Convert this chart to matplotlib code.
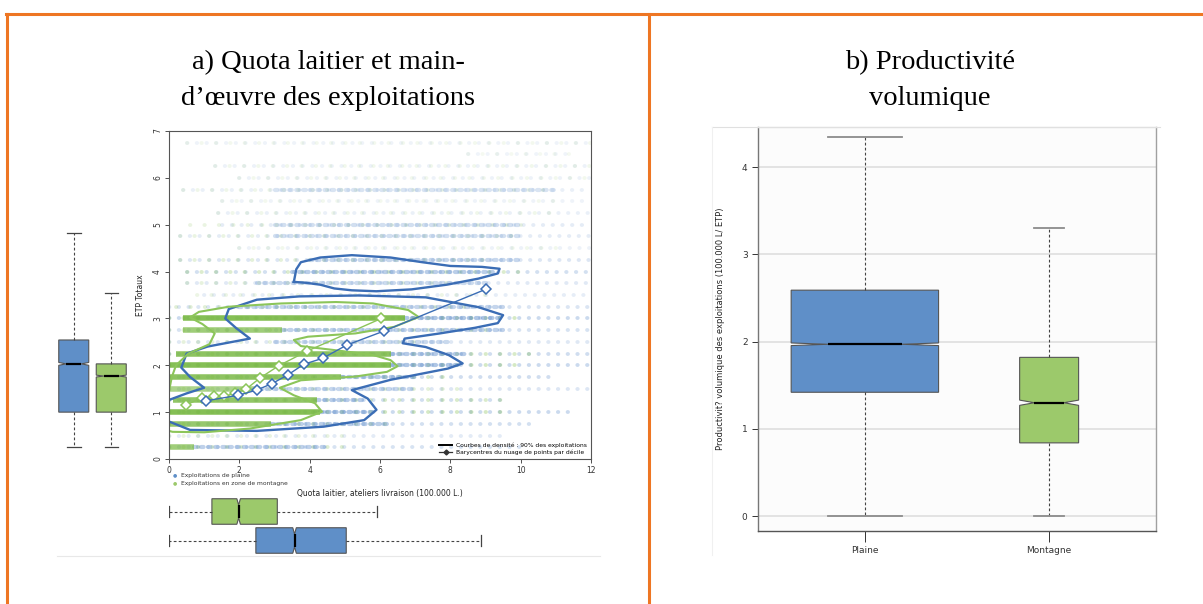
import matplotlib
matplotlib.use("Agg")
import matplotlib.pyplot as plt
from matplotlib.lines import Line2D

W, H = 1203, 604

# colours
BLUE = "#5f8fc8"
GREEN = "#9cc96b"
BLUE_PT = "#4f82c6"
GREEN_PT = "#78b842"
BLUE_LINE = "#3b6db5"
GREEN_LINE = "#8cc55a"
ORANGE = "#ee7623"

# --- a) quota / ETP scatter, one entry per ETP level ---
etp_levels = [0.25, 0.5, 0.75, 1.0, 1.25, 1.5, 1.75, 2.0, 2.25, 2.5, 2.75, 3.0, 3.25, 3.5,
              3.75, 4.0, 4.25, 4.5, 4.75, 5.0, 5.25, 5.5, 5.75, 6.0, 6.25, 6.5, 6.75]
green_band = [(0, 0.7), (0, 0), (0, 2.9), (0, 4.3), (0.1, 4.2), (0, 2.6), (0, 4.9), (0, 6.3),
              (0.2, 6.3), (0, 0), (0.4, 3.2), (0.4, 6.7), (0, 0), (0, 0), (0, 0), (0, 0),
              (0, 0), (0, 0), (0, 0), (0, 0), (0, 0), (0, 0), (0, 0), (0, 0), (0, 0), (0, 0), (0, 0)]
green_spread = [(0, 5.0), (0, 5.0), (0, 6.5), (0, 9.5), (0, 9.5), (0, 8.5), (0, 8.0), (0, 10.0),
                (0, 10.5), (0, 7.0), (0, 9.0), (0, 10.0), (0.2, 8.5), (0.8, 9.0), (0.5, 8.0),
                (0.5, 10.0), (0.3, 9.0), (2.0, 11.0), (0.3, 10.0), (0.6, 10.0), (1.4, 11.0),
                (1.5, 11.0), (0.4, 11.0), (2.0, 12.0), (1.3, 12.0), (8.5, 11.5), (0.5, 12.0)]
blue_band = [(0.7, 4.5), (0, 0), (2.9, 6.3), (4.3, 5.8), (4.2, 5.6), (2.6, 7.0), (4.9, 7.0),
             (6.3, 8.3), (6.3, 8.5), (3.0, 8.0), (3.2, 9.5), (6.7, 9.5), (2.0, 9.5), (0, 0),
             (2.5, 9.0), (3.5, 9.2), (4.0, 10.0), (0, 0), (3.0, 10.0), (3.0, 10.0), (0, 0),
             (0, 0), (3.0, 11.0), (0, 0), (0, 0), (0, 0), (0, 0)]
blue_spread = [(0, 10.0), (0, 9.5), (0, 10.5), (0, 11.5), (0, 9.5), (0, 12.0), (0, 11.0),
               (0, 12.0), (0, 12.0), (0, 12.0), (0, 12.0), (0, 12.0), (0, 12.0), (1.0, 12.0),
               (0.5, 12.0), (0.5, 12.0), (0.3, 12.0), (2.0, 12.0), (0.3, 12.0), (1.5, 12.0),
               (1.4, 12.0), (1.5, 12.0), (0.4, 12.0), (2.0, 12.0), (1.3, 12.0), (8.5, 11.5),
               (0.5, 12.0)]
row_density = [0.7, 0.4, 0.8, 1.0, 0.85, 0.55, 0.9, 1.0, 0.9, 0.5, 0.7, 1.0, 0.6, 0.3,
               0.45, 0.8, 0.55, 0.15, 0.35, 0.35, 0.2, 0.1, 0.22, 0.12, 0.15, 0.05, 0.1]

# 90% density contours
blue_low_x = [0.0, 0.5, 1.0, 0.6, 0.35, 0.5, 1.1, 2.3, 1.9, 1.6, 1.7, 2.5, 3.7, 5.4, 7.3, 8.8,
              9.5, 9.35, 8.7, 7.7, 6.7, 6.65, 7.3, 7.95, 8.35, 7.93, 6.3, 5.2, 5.65, 5.9, 5.55,
              4.4, 2.5, 0.6, 0.0]
blue_low_y = [1.26, 1.4, 1.52, 1.75, 1.95, 2.25, 2.4, 2.57, 2.8, 3.0, 3.2, 3.4, 3.47, 3.49,
              3.45, 3.24, 3.07, 2.9, 2.8, 2.68, 2.57, 2.47, 2.39, 2.22, 2.04, 1.93, 1.69, 1.47,
              1.29, 1.05, 0.83, 0.69, 0.6, 0.62, 0.8]
blue_top_x = [3.55, 3.62, 3.75, 4.3, 5.2, 6.3, 7.2, 8.0, 8.9, 9.4, 9.35, 8.8, 7.9, 6.9, 5.9,
              5.2, 4.7, 4.3, 3.9, 3.55]
blue_top_y = [3.78, 4.05, 4.2, 4.3, 4.35, 4.3, 4.2, 4.12, 4.1, 4.06, 3.96, 3.85, 3.72, 3.62,
              3.58, 3.6, 3.64, 3.72, 3.76, 3.78]
green_x = [0.0, 0.08, 0.2, 0.55, 1.15, 1.3, 0.95, 0.6, 0.85, 1.7, 3.2, 4.75, 5.8, 6.8, 7.1,
           6.4, 5.3, 3.95, 3.55, 3.75, 4.75, 5.8, 6.3, 6.5, 6.2, 5.3, 3.75, 3.15, 3.55, 4.15,
           4.35, 3.75, 2.3, 1.0, 0.1, 0.0]
green_y = [1.45, 1.75, 2.0, 2.25, 2.45, 2.68, 2.88, 3.02, 3.14, 3.25, 3.32, 3.35, 3.32, 3.18,
           3.03, 2.82, 2.68, 2.61, 2.54, 2.41, 2.32, 2.22, 2.11, 1.98, 1.86, 1.76, 1.68, 1.52,
           1.36, 1.19, 1.01, 0.83, 0.65, 0.57, 0.58, 0.6]

# barycentres per decile
bary_plaine_x = [1.04, 1.97, 2.49, 2.93, 3.37, 3.83, 4.37, 5.05, 6.11, 9.0]
bary_plaine_y = [1.24, 1.36, 1.47, 1.61, 1.79, 2.02, 2.15, 2.43, 2.73, 3.62]
bary_mont_x = [0.48, 0.94, 1.27, 1.57, 1.88, 2.19, 2.59, 3.12, 3.92, 6.04]
bary_mont_y = [1.15, 1.31, 1.34, 1.34, 1.40, 1.49, 1.73, 1.99, 2.30, 3.0]

# marginal boxplots: (whislo, q1, med, q3, whishi, cilo, cihi)
etp_plaine = (0.26, 1.0, 2.03, 2.54, 4.82, 2.0, 2.06)
etp_mont = (0.25, 1.0, 1.77, 2.03, 3.54, 1.75, 1.79)
quota_plaine = (0.0, 2.47, 3.57, 5.04, 8.88, 3.52, 3.62)
quota_mont = (0.0, 1.22, 1.98, 3.08, 5.92, 1.93, 2.03)

# --- b) productivity ---
prod_labels = ["Plaine", "Montagne"]
prod_stats = [(0.0, 1.42, 1.97, 2.59, 4.34, 1.955, 1.985),
              (0.0, 0.84, 1.30, 1.82, 3.30, 1.27, 1.33)]
prod_widths = [0.80, 0.32]


def px_box(l, t, r, b):
    return [l / W, 1 - b / H, (r - l) / W, (b - t) / H]


def stats(s, label=""):
    return dict(whislo=s[0], q1=s[1], med=s[2], q3=s[3], whishi=s[4],
                cilo=s[5], cihi=s[6], fliers=[], label=label)


def draw_boxes(ax, data, colors, positions, widths, orientation, capw, cap_color="#444"):
    res = ax.bxp(data, positions=positions, widths=widths, shownotches=True,
                 patch_artist=True, orientation=orientation, capwidths=capw,
                 boxprops=dict(edgecolor="#555555", linewidth=0.8),
                 whiskerprops=dict(color="#444444", linewidth=0.8, linestyle=(0, (2.5, 2))),
                 capprops=dict(color=cap_color, linewidth=0.9),
                 medianprops=dict(color="black", linewidth=1.6))
    for patch, c in zip(res["boxes"], colors):
        patch.set_facecolor(c)
    return res


fig = plt.figure(figsize=(W / 100, H / 100), dpi=100)

# orange frame
fig.add_artist(Line2D([6 / W, 1], [1 - 14 / H, 1 - 14 / H], color=ORANGE, lw=2.2))
fig.add_artist(Line2D([7 / W, 7 / W], [0, 1 - 14 / H], color=ORANGE, lw=2.2))
fig.add_artist(Line2D([649 / W, 649 / W], [0, 1 - 14 / H], color=ORANGE, lw=2.2))

tfont = dict(family="Liberation Serif", fontsize=20.5, ha="center", va="center")
fig.text(328 / W, 1 - 63 / H, "a) Quota laitier et main-", **tfont)
fig.text(328 / W, 1 - 98 / H, "d\u2019\u0153uvre des exploitations", **tfont)
fig.text(930 / W, 1 - 63 / H, "b) Productivit\u00e9", **tfont)
fig.text(930 / W, 1 - 98 / H, "volumique", **tfont)

# separator under the left figure
fig.add_artist(Line2D([57 / W, 600 / W], [1 - 556 / H, 1 - 556 / H], color="#e8e8e8", lw=0.8))

# ---- scatter ----
ax = fig.add_axes(px_box(169, 131, 591, 459))
for i, y in enumerate(etp_levels):
    d = row_density[i]
    b0, b1 = blue_spread[i]
    lc = ax.hlines(y, b0, b1, color=BLUE_PT, lw=2.8, alpha=0.07 + 0.22 * d,
                   linestyles=[(0, (0.1, 2.4))])
    lc.set_capstyle("round")
    g0, g1 = green_spread[i]
    lc = ax.hlines(y, g0, g1, color=GREEN_PT, lw=2.8, alpha=0.06 + 0.25 * d,
                   linestyles=[(0, (0.1, 3.6))])
    lc.set_capstyle("round")
    b0, b1 = blue_band[i]
    if b1 > b0:
        lc = ax.hlines(y, b0, b1, color=BLUE_PT, lw=3.0, alpha=0.15 + 0.3 * d,
                       linestyles=[(0, (0.6, 1.1))])
        lc.set_capstyle("round")
    g0, g1 = green_band[i]
    if g1 > g0:
        ax.hlines(y, g0, g1, color=GREEN_PT, lw=4.0, alpha=0.25 + 0.65 * d)

ax.plot(blue_low_x, blue_low_y, color=BLUE_LINE, lw=1.7)
ax.plot(blue_top_x, blue_top_y, color=BLUE_LINE, lw=1.7)
ax.plot(green_x, green_y, color=GREEN_LINE, lw=1.5)
ax.plot(bary_mont_x, bary_mont_y, color=GREEN_LINE, lw=1.0, marker="D", ms=5,
        mfc="white", mec=GREEN_LINE, mew=1.1)
ax.plot(bary_plaine_x, bary_plaine_y, color=BLUE_LINE, lw=1.0, marker="D", ms=5,
        mfc="white", mec=BLUE_LINE, mew=1.1)

ax.set_xlim(0, 12)
ax.set_ylim(0, 7)
ax.set_xticks(range(0, 13, 2))
ax.set_yticks(range(0, 8))
ax.tick_params(labelsize=5.5, length=3, width=0.6, colors="#333333", pad=2)
for lab in ax.get_yticklabels():
    lab.set_rotation(90)
    lab.set_va("center")
for sp in ax.spines.values():
    sp.set_color("#555555")
    sp.set_linewidth(0.8)
ax.set_ylabel("ETP Totaux", fontsize=5.5, labelpad=6, color="#222222")
ax.set_xlabel("Quota laitier, ateliers livraison (100.000 L.)", fontsize=5.5,
              labelpad=10, color="#222222")

handles = [Line2D([], [], color="black", lw=1.4),
           Line2D([], [], color="#333333", lw=0.9, marker="D", ms=2.5, mfc="#333333")]
ax.legend(handles, ["Courbes de densit\u00e9 : 90% des exploitations",
                    "Barycentres du nuage de points par d\u00e9cile"],
          loc="lower right", fontsize=4.3, frameon=False, handlelength=2.2,
          borderaxespad=0.3, labelspacing=0.15, handletextpad=0.6)

# point legend below the axis
fig.text(175 / W, 1 - 475 / H, "\u25cf", color=BLUE, fontsize=3.5, ha="center", va="center")
fig.text(181 / W, 1 - 475 / H, "Exploitations de plaine", fontsize=4.3, va="center",
         color="#333333")
fig.text(175 / W, 1 - 483 / H, "\u25cf", color=GREEN, fontsize=3.5, ha="center", va="center")
fig.text(181 / W, 1 - 483 / H, "Exploitations en zone de montagne", fontsize=4.3,
         va="center", color="#333333")

# ---- marginal ETP boxplots (left) ----
axl = fig.add_axes(px_box(55, 131, 130, 459))
draw_boxes(axl, [stats(etp_plaine), stats(etp_mont)], [BLUE, GREEN], [1, 2], 0.8,
           "vertical", 0.36)
axl.set_xlim(0.5, 2.5)
axl.set_ylim(0, 7)
axl.axis("off")

# ---- marginal quota boxplots (bottom) ----
axb = fig.add_axes(px_box(169, 497, 591, 555))
draw_boxes(axb, [stats(quota_plaine), stats(quota_mont)], [BLUE, GREEN], [1, 2], 0.88,
           "horizontal", 0.4)
axb.set_xlim(0, 12)
axb.set_ylim(0.5, 2.5)
axb.axis("off")

# ---- b) productivity ----
fig.add_artist(Line2D([712 / W, 1160 / W], [1 - 127 / H, 1 - 127 / H], color="#e0e0e0", lw=0.8))
fig.add_artist(Line2D([712 / W, 712 / W], [1 - 555 / H, 1 - 127 / H], color="#f0f0f0", lw=0.8))
axr = fig.add_axes(px_box(758, 127, 1156, 531))
axr.set_facecolor("#fcfcfc")
for yv in range(0, 5):
    axr.axhline(yv, color="#dedede", lw=1.2, zorder=0)
res = draw_boxes(axr, [stats(s, l) for s, l in zip(prod_stats, prod_labels)], [BLUE, GREEN],
                 [1, 2], prod_widths, "vertical", [0.4, 0.16], cap_color="#8c8c8c")
for cap in res["caps"]:
    cap.set_linewidth(1.3)
axr.set_xlim(0.42, 2.58)
axr.set_ylim(-0.17, 4.46)
axr.set_yticks(range(0, 5))
axr.set_xticks([1, 2])
axr.set_xticklabels(prod_labels)
axr.tick_params(labelsize=6.5, length=4, width=0.7, colors="#333333")
axr.tick_params(axis="x", length=8, pad=3)
axr.spines["top"].set_color("#e4e4e4")
axr.spines["right"].set_color("#a0a0a0")
axr.spines["left"].set_color("#777777")
axr.spines["bottom"].set_color("#555555")
for sp in axr.spines.values():
    sp.set_linewidth(1.0)
axr.set_ylabel("Productivit? volumique des exploitations (100.000 L/ ETP)", fontsize=6,
               labelpad=12, color="#222222")

fig.savefig("out.png", dpi=100)
